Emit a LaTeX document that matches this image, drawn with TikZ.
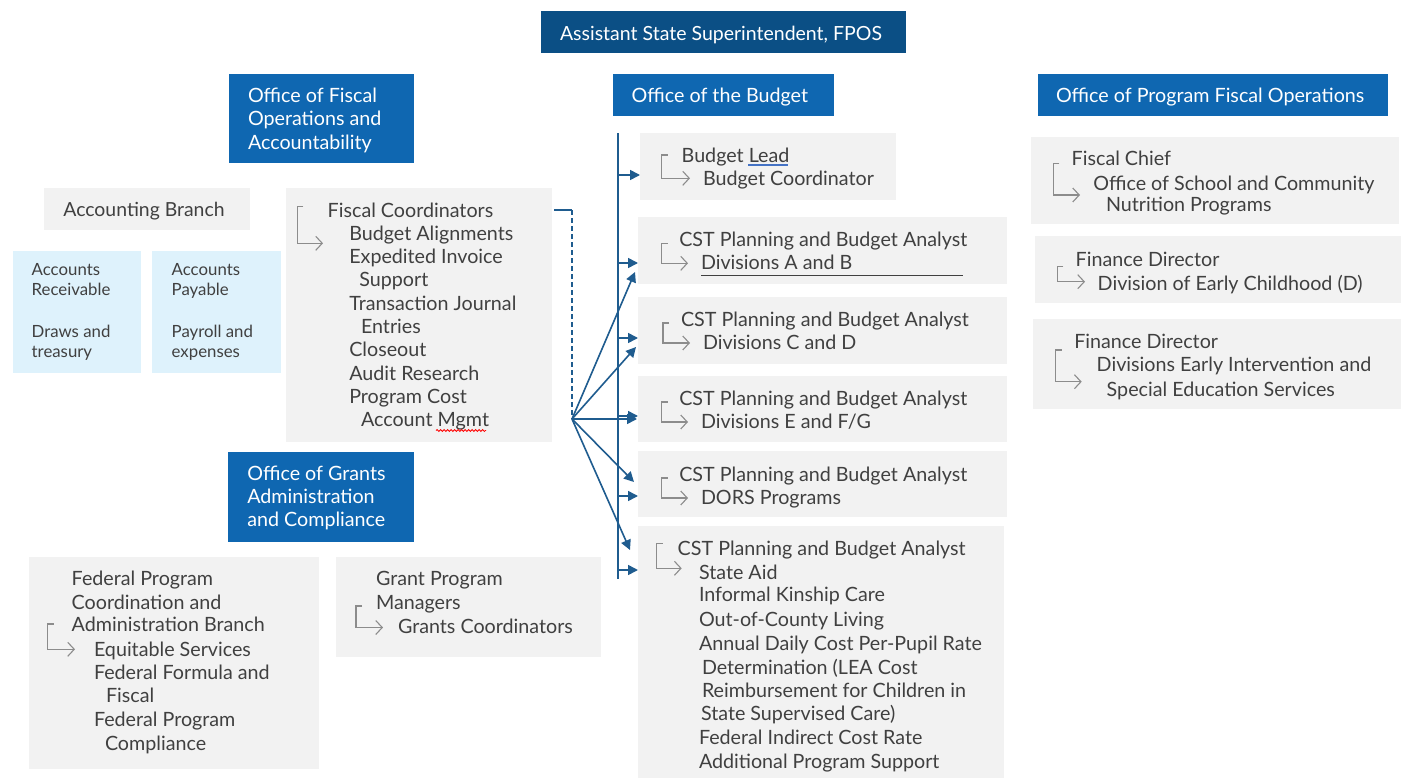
\documentclass[tikz,border=0pt]{standalone}
\usepackage{fontspec}
\setmainfont{Lato}
\usetikzlibrary{arrows.meta,fit,calc,decorations.pathmorphing}
\definecolor{navy}{HTML}{0B4F85}
\definecolor{hblue}{HTML}{0F67B1}
\definecolor{boxgray}{HTML}{F2F2F2}
\definecolor{lblue}{HTML}{DEF2FC}
\definecolor{tgray}{HTML}{404040}
\definecolor{ggray}{HTML}{8C8C8C}
\definecolor{conn}{HTML}{1F5C8F}
\newcounter{tl}
\newcommand\T[4][txt]{\stepcounter{tl}\node[#1] (tl\arabic{tl}) at (#2,#3) {#4};}
\newcommand\G[4]{\draw[glyph] (#1+6,#2) -- (#1,#2) -- (#1,#3) -- (#4,#3);}
\newcommand\B[6][gbox]{\node[#1, fit={(#3,#4) (#5,#6)}] (#2) {};}
\begin{document}
\begin{tikzpicture}[x=1pt,y=-1pt,
  txt/.style={anchor=base west,inner sep=0,outer sep=0,text=tgray,font=\fontsize{19.7}{23}\selectfont},
  txtb/.style={txt,font=\fontsize{19.4}{23}\selectfont},
  txts/.style={txt,font=\fontsize{16.8}{20}\selectfont},
  htxt/.style={txt,text=white},
  ttxt/.style={txt,text=white,font=\fontsize{19.5}{23}\selectfont},
  gbox/.style={fill=boxgray,draw=none,inner sep=0,outer sep=0},
  lbox/.style={gbox,fill=lblue},
  hbox/.style={gbox,fill=hblue},
  tbox/.style={gbox,fill=navy},
  glyph/.style={draw=ggray,line width=1.1pt,-{Straight Barb[length=6.5pt,width=14pt]}},
  cline/.style={draw=conn,line width=1.6pt},
  carr/.style={cline,-{Triangle[length=10pt,width=10pt]}},
  cdash/.style={cline,dashed,dash pattern=on 5pt off 3pt}]
\useasboundingbox[fill=white] (0,0) rectangle (1403,779);
% ---------- boxes ----------
\B[tbox]{title}{541}{11}{906}{53}
\B[hbox]{ofoa}{229}{74}{414}{163}
\B[hbox]{ob}{613}{74}{834}{116}
\B[hbox]{opfo}{1038}{74}{1388}{116}
\B[hbox]{ogac}{228}{452}{414}{542}
\B{acc}{44}{188}{250}{230}
\B[lbox]{ar}{13}{251}{141}{373}
\B[lbox]{ap}{152}{251}{281}{373}
\B{fc}{286}{188}{552}{442}
\B{bl}{640}{133}{896}{200}
\B{ab}{638}{217}{1007}{284}
\B{cd}{638}{297}{1007}{364}
\B{efg}{638}{376}{1007}{442}
\B{dors}{638}{451}{1007}{517}
\B{sa}{638}{526}{1004}{778}
\B{fch}{1031}{137}{1399}{224}
\B{fd1}{1035}{236}{1401}{303}
\B{fd2}{1033}{319}{1401}{409}
\B{fp}{29}{557}{319}{769}
\B{gp}{336}{557}{601}{657}
% ---------- header texts ----------
\T[ttxt]{560}{40}{Assistant State Superintendent, FPOS}
\T[htxt]{248}{102.3}{Office of Fiscal}
\T[htxt]{248}{125.6}{Operations and}
\T[htxt]{248}{149}{Accountability}
\T[htxt]{631.7}{102.3}{Office of the Budget}
\T[htxt]{1056}{102.3}{Office of Program Fiscal Operations}
\T[htxt]{247.3}{480}{Office of Grants}
\T[htxt]{247.3}{503.3}{Administration}
\T[htxt]{247.3}{526.7}{and Compliance}
% ---------- accounting ----------
\T[txtb,anchor=base]{144}{216.7}{Accounting Branch}
\T[txts]{31.7}{275}{Accounts}
\T[txts]{31.7}{295}{Receivable}
\T[txts]{31.7}{337}{Draws and}
\T[txts]{31.7}{357}{treasury}
\T[txts]{171.7}{275}{Accounts}
\T[txts]{171.7}{295}{Payable}
\T[txts]{171.7}{337}{Payroll and}
\T[txts]{171.7}{357}{expenses}
% ---------- fiscal coordinators ----------
\G{297.3}{206.7}{243.3}{323}
\T{327.7}{217.3}{Fiscal Coordinators}
\T{349.3}{240}{Budget Alignments}
\T{349.3}{263.3}{Expedited Invoice}
\T{359.3}{286}{Support}
\T{349.3}{310}{Transaction Journal}
\T{361}{333.3}{Entries}
\T{349.3}{356.7}{Closeout}
\T{349.3}{380}{Audit Research}
\T{349.3}{403.3}{Program Cost}
\T{361}{426.7}{Account Mgmt}
\draw[red,line width=0.8pt,decorate,decoration={snake,amplitude=1pt,segment length=3.5pt}] (436,430.5) -- (486,430.5);
% ---------- budget column ----------
\G{661.7}{155}{178.3}{690}
\T{681.7}{162.3}{Budget Lead}
\T{703}{185}{Budget Coordinator}
\draw[draw={rgb,255:red,68;green,114;blue,196},line width=1.8pt] (748,164.8) -- (788,164.8);
\G{661.7}{243.3}{263.3}{688}
\T{679.3}{246}{CST Planning and Budget Analyst}
\T{701}{269.3}{Divisions A and B}
\draw[tgray,line width=1pt] (701,275) -- (963,275);
\G{663}{323}{343}{690}
\T{681}{326}{CST Planning and Budget Analyst}
\T{703}{349}{Divisions C and D}
\G{661.7}{402}{422}{688}
\T{679.3}{405}{CST Planning and Budget Analyst}
\T{701}{428}{Divisions E and F/G}
\G{661.7}{478}{498}{688}
\T{679.3}{481}{CST Planning and Budget Analyst}
\T{701}{504}{DORS Programs}
\G{656.7}{543.3}{568.3}{681.7}
\T{677.7}{555}{CST Planning and Budget Analyst}
\T{699}{579}{State Aid}
\T{699}{601.7}{Informal Kinship Care}
\T{699}{626}{Out-of-County Living}
\T{699}{650}{Annual Daily Cost Per-Pupil Rate}
\T{702}{674}{Determination (LEA Cost}
\T{702}{697.7}{Reimbursement for Children in}
\T{701}{720}{State Supervised Care)}
\T{699}{744}{Federal Indirect Cost Rate}
\T{699}{768.3}{Additional Program Support}
% ---------- program fiscal operations ----------
\G{1053.3}{163.3}{195}{1080}
\T{1071.7}{165}{Fiscal Chief}
\T{1093.3}{190}{Office of School and Community}
\T{1106}{211}{Nutrition Programs}
\G{1057.3}{266.7}{281.7}{1085}
\T{1075.7}{266.7}{Finance Director}
\T{1097.7}{290}{Division of Early Childhood (D)}
\G{1055.7}{350}{381.7}{1081.7}
\T{1074.3}{348.3}{Finance Director}
\T{1096.7}{371.7}{Divisions Early Intervention and}
\T{1106.7}{396.7}{Special Education Services}
% ---------- grants ----------
\G{47.7}{624}{649.3}{75}
\T{71.7}{585}{Federal Program}
\T{71.7}{609.3}{Coordination and}
\T{71.7}{631.7}{Administration Branch}
\T{94}{656}{Equitable Services}
\T{94}{679.3}{Federal Formula and}
\T{106}{702.7}{Fiscal}
\T{94}{726}{Federal Program}
\T{105}{750}{Compliance}
\G{356}{606}{627.5}{383}
\T{376}{585}{Grant Program}
\T{376}{609}{Managers}
\T{398}{633}{Grants Coordinators}
% ---------- connectors ----------
\coordinate (vtop) at (618,133);
\coordinate (vbot) at (618,579);
\draw[cline] (vtop) -- (vbot);
\coordinate (h1) at (618,175);
\coordinate (h2) at (618,263);
\coordinate (h3) at (618,338);
\coordinate (h4) at (618,416);
\coordinate (h5) at (618,496);
\coordinate (h6) at (618,570);
\draw[carr] (h1) -- (h1 -| bl.west);
\draw[carr] (h2) -- (h2 -| ab.west);
\draw[carr] (h3) -- (h3 -| cd.west);
\draw[carr] (h4) -- (h4 -| efg.west);
\draw[carr] (h5) -- (h5 -| dors.west);
\draw[carr] (h6) -- (h6 -| sa.west);
\coordinate (dtop) at (572,210);
\coordinate (hub) at (572,419);
\draw[cline] (fc.east |- dtop) ++(2,0) -- (dtop);
\draw[cdash] (dtop) -- (hub);
\draw[carr] (hub) -- ($(ab.north west)+(-3,55)$);
\draw[carr] (hub) -- ($(cd.north west)+(-2,50)$);
\draw[carr] (hub) -- ($(efg.north west)+(-1,43)$);
\draw[carr] (hub) -- ($(dors.north west)+(-4,31)$);
\draw[carr] (hub) -- ($(sa.north west)+(-8,24)$);
\end{tikzpicture}
\end{document}
